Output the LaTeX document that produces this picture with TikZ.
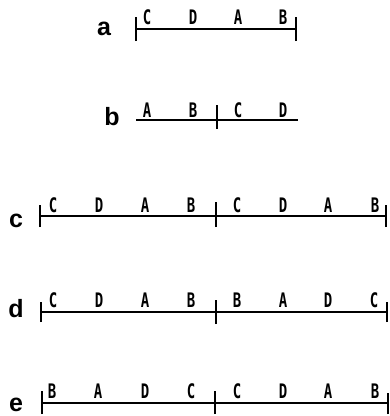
\documentclass[tikz,border=0pt]{standalone}
\usepackage{fontspec}
\newfontfamily\letfont[FakeStretch=0.7]{DejaVu Sans Mono}
\newfontfamily\labfont{Liberation Sans}
\begin{document}
\begin{tikzpicture}[x=1pt,y=-1pt,
  seg/.style={line width=1.5pt},
  tck/.style={line width=1.5pt},
  lett/.style={font=\letfont\bfseries\fontsize{20}{20}\selectfont, anchor=base, inner sep=0pt},
  lab/.style={font=\labfont\bfseries\fontsize{25}{25}\selectfont, anchor=base, inner sep=0pt}]
\useasboundingbox (0,0) rectangle (390,416);
% row a
\node[lab] (la) at (104,35.5) {a};
\coordinate (a1) at (136,29); \coordinate (a2) at (296,29);
\draw[seg] (a1) -- (a2);
\draw[tck] ([yshift=-12pt]a1) -- ([yshift=12pt]a1);
\draw[tck] ([yshift=-12pt]a2) -- ([yshift=12pt]a2);
\foreach \x/\t [count=\i] in {147/C,193/D,238/A,283/B} \node[lett] (ta\i) at (\x,24) {\t};
% row b
\node[lab] (lb) at (112,125.5) {b};
\coordinate (b1) at (136,120); \coordinate (b2) at (298,120); \coordinate (bm) at (217,120);
\draw[seg] (b1) -- (b2);
\draw[tck] ([yshift=-9pt]bm) -- ([yshift=15pt]bm);
\foreach \x/\t [count=\i] in {147/A,193/B,238/C,283/D} \node[lett] (tb\i) at (\x,117) {\t};
% row c
\node[lab] (lc) at (16,227.5) {c};
\coordinate (c1) at (40,216); \coordinate (cm) at (216,216); \coordinate (c2) at (386,216);
\draw[seg] (c1) -- (c2);
\draw[tck] ([yshift=-11pt]c1) -- ([yshift=11pt]c1);
\draw[tck] ([yshift=-11pt]cm) -- ([yshift=14pt]cm);
\draw[tck] ([yshift=-11pt]c2) -- ([yshift=11pt]c2);
\foreach \x/\t [count=\i] in {53/C,99/D,145/A,191/B,237/C,283/D,328/A,375/B} \node[lett] (tc\i) at (\x,212) {\t};
% row d
\node[lab] (ld) at (16,317.5) {d};
\coordinate (d1) at (41,312); \coordinate (dm) at (216,312); \coordinate (d2) at (387,312);
\draw[seg] (d1) -- (d2);
\draw[tck] ([yshift=-10pt]d1) -- ([yshift=10pt]d1);
\draw[tck] ([yshift=-12pt]dm) -- ([yshift=12pt]dm);
\draw[tck] ([yshift=-10pt]d2) -- ([yshift=10pt]d2);
\foreach \x/\t [count=\i] in {53/C,99/D,145/A,191/B,237/B,283/A,328/D,374/C} \node[lett] (td\i) at (\x,307) {\t};
% row e
\node[lab] (le) at (16,411.5) {e};
\coordinate (e1) at (42,403); \coordinate (em) at (215,403); \coordinate (e2) at (388,403);
\draw[seg] (e1) -- (e2);
\draw[tck] ([yshift=-11pt]e1) -- ([yshift=12pt]e1);
\draw[tck] ([yshift=-11pt]em) -- ([yshift=12pt]em);
\draw[tck] ([yshift=-11pt]e2) -- ([yshift=10pt]e2);
\foreach \x/\t [count=\i] in {52/B,98/A,145/D,191/C,237/C,283/D,328/A,375/B} \node[lett] (te\i) at (\x,398) {\t};
\end{tikzpicture}
\end{document}
